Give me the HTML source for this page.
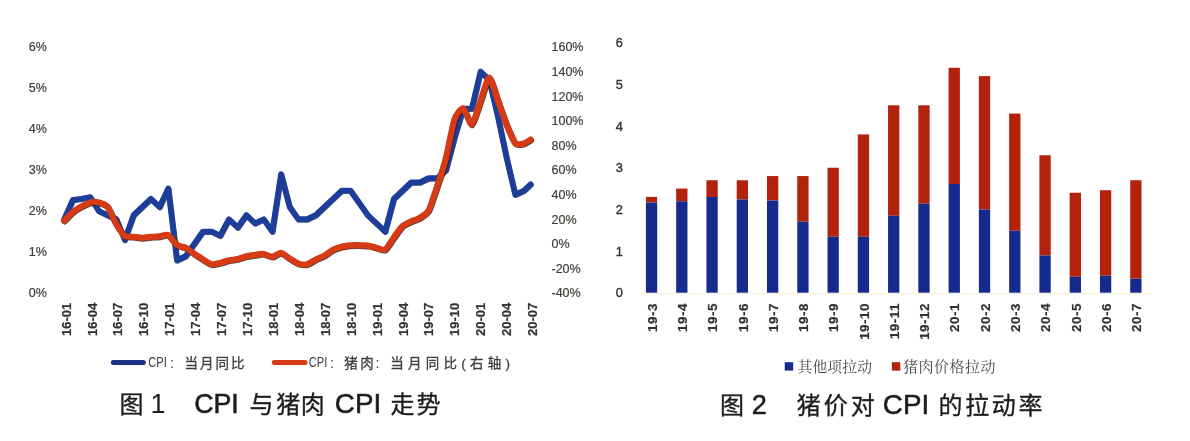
<!DOCTYPE html>
<html><head><meta charset="utf-8"><title>chart</title>
<style>html,body{margin:0;padding:0;background:#fff;}body{width:1190px;height:441px;overflow:hidden;font-family:"Liberation Sans",sans-serif;}svg{display:block;}</style>
</head><body>
<svg width="1190" height="441" viewBox="0 0 1190 441" font-family='"Liberation Sans", sans-serif'>
<defs><filter id="b" x="-5%" y="-5%" width="110%" height="110%"><feGaussianBlur stdDeviation="0.6"/></filter><filter id="b2" x="-5%" y="-5%" width="110%" height="110%"><feGaussianBlur stdDeviation="0.4"/></filter></defs>
<rect width="1190" height="441" fill="#ffffff"/>
<g filter="url(#b2)">
<text x="28.8" y="296.9" font-size="12.5" text-anchor="start" font-weight="normal" fill="#3e3e38" stroke="#3e3e38" stroke-width="0.2">0%</text>
<text x="28.8" y="255.9" font-size="12.5" text-anchor="start" font-weight="normal" fill="#3e3e38" stroke="#3e3e38" stroke-width="0.2">1%</text>
<text x="28.8" y="214.9" font-size="12.5" text-anchor="start" font-weight="normal" fill="#3e3e38" stroke="#3e3e38" stroke-width="0.2">2%</text>
<text x="28.8" y="173.9" font-size="12.5" text-anchor="start" font-weight="normal" fill="#3e3e38" stroke="#3e3e38" stroke-width="0.2">3%</text>
<text x="28.8" y="132.9" font-size="12.5" text-anchor="start" font-weight="normal" fill="#3e3e38" stroke="#3e3e38" stroke-width="0.2">4%</text>
<text x="28.8" y="91.9" font-size="12.5" text-anchor="start" font-weight="normal" fill="#3e3e38" stroke="#3e3e38" stroke-width="0.2">5%</text>
<text x="28.8" y="50.9" font-size="12.5" text-anchor="start" font-weight="normal" fill="#3e3e38" stroke="#3e3e38" stroke-width="0.2">6%</text>
<text x="551.5" y="297.3" font-size="12.5" text-anchor="start" font-weight="normal" fill="#3e3e38" stroke="#3e3e38" stroke-width="0.2">-40%</text>
<text x="551.5" y="272.7" font-size="12.5" text-anchor="start" font-weight="normal" fill="#3e3e38" stroke="#3e3e38" stroke-width="0.2">-20%</text>
<text x="551.5" y="248.10000000000002" font-size="12.5" text-anchor="start" font-weight="normal" fill="#3e3e38" stroke="#3e3e38" stroke-width="0.2">0%</text>
<text x="551.5" y="223.5" font-size="12.5" text-anchor="start" font-weight="normal" fill="#3e3e38" stroke="#3e3e38" stroke-width="0.2">20%</text>
<text x="551.5" y="198.9" font-size="12.5" text-anchor="start" font-weight="normal" fill="#3e3e38" stroke="#3e3e38" stroke-width="0.2">40%</text>
<text x="551.5" y="174.3" font-size="12.5" text-anchor="start" font-weight="normal" fill="#3e3e38" stroke="#3e3e38" stroke-width="0.2">60%</text>
<text x="551.5" y="149.70000000000002" font-size="12.5" text-anchor="start" font-weight="normal" fill="#3e3e38" stroke="#3e3e38" stroke-width="0.2">80%</text>
<text x="551.5" y="125.10000000000001" font-size="12.5" text-anchor="start" font-weight="normal" fill="#3e3e38" stroke="#3e3e38" stroke-width="0.2">100%</text>
<text x="551.5" y="100.49999999999999" font-size="12.5" text-anchor="start" font-weight="normal" fill="#3e3e38" stroke="#3e3e38" stroke-width="0.2">120%</text>
<text x="551.5" y="75.89999999999999" font-size="12.5" text-anchor="start" font-weight="normal" fill="#3e3e38" stroke="#3e3e38" stroke-width="0.2">140%</text>
<text x="551.5" y="51.3" font-size="12.5" text-anchor="start" font-weight="normal" fill="#3e3e38" stroke="#3e3e38" stroke-width="0.2">160%</text>
</g>
<g filter="url(#b)" fill="none" stroke-linejoin="round" stroke-linecap="round">
<path d="M64.1 219.2 L72.8 199.9 L81.4 198.7 L90.1 197.1 L98.8 211.0 L107.5 215.1 L116.2 219.2 L124.8 239.7 L133.5 215.1 L142.2 206.9 L150.8 198.7 L159.5 206.9 L168.2 188.4 L176.9 260.2 L185.6 256.1 L194.2 243.8 L202.9 231.5 L211.6 231.5 L220.2 235.6 L228.9 219.2 L237.6 227.4 L246.3 215.1 L255.0 223.3 L263.6 219.2 L272.3 231.5 L281.0 174.1 L289.6 206.9 L298.3 219.2 L307.0 219.2 L315.7 215.1 L324.4 206.9 L333.0 198.7 L341.7 190.5 L350.4 190.5 L359.1 202.8 L367.7 215.1 L376.4 223.3 L385.1 231.5 L393.8 198.7 L402.4 190.5 L411.1 182.3 L419.8 182.3 L428.5 178.2 L437.1 178.2 L445.8 170.0 L454.5 137.2 L463.1 108.5 L471.8 108.5 L480.5 71.6 L489.2 79.8 L497.9 116.7 L506.5 157.7 L515.2 194.6 L523.9 190.5 L530.5 184.3" stroke="#0e1a4a" transform="translate(0.5,0.6)" opacity="0.75" stroke-width="5.7"/>
<path d="M64.1 219.2 L72.8 199.9 L81.4 198.7 L90.1 197.1 L98.8 211.0 L107.5 215.1 L116.2 219.2 L124.8 239.7 L133.5 215.1 L142.2 206.9 L150.8 198.7 L159.5 206.9 L168.2 188.4 L176.9 260.2 L185.6 256.1 L194.2 243.8 L202.9 231.5 L211.6 231.5 L220.2 235.6 L228.9 219.2 L237.6 227.4 L246.3 215.1 L255.0 223.3 L263.6 219.2 L272.3 231.5 L281.0 174.1 L289.6 206.9 L298.3 219.2 L307.0 219.2 L315.7 215.1 L324.4 206.9 L333.0 198.7 L341.7 190.5 L350.4 190.5 L359.1 202.8 L367.7 215.1 L376.4 223.3 L385.1 231.5 L393.8 198.7 L402.4 190.5 L411.1 182.3 L419.8 182.3 L428.5 178.2 L437.1 178.2 L445.8 170.0 L454.5 137.2 L463.1 108.5 L471.8 108.5 L480.5 71.6 L489.2 79.8 L497.9 116.7 L506.5 157.7 L515.2 194.6 L523.9 190.5 L530.5 184.3" stroke="#1d3d9a" stroke-width="5.7"/>
<path d="M64.1 220.7 C65.0 219.8 71.0 213.5 72.8 212.1 C74.5 210.7 79.7 207.5 81.4 206.5 C83.2 205.6 88.4 202.9 90.1 202.5 C91.9 202.1 97.1 202.0 98.8 202.5 C100.5 202.9 105.7 204.6 107.5 206.8 C109.2 208.9 114.4 221.1 116.2 224.0 C117.9 226.9 123.1 234.6 124.8 235.9 C126.6 237.2 131.8 236.6 133.5 236.8 C135.2 237.0 140.4 237.9 142.2 237.9 C143.9 237.9 149.1 237.1 150.8 236.9 C152.6 236.8 157.8 236.6 159.5 236.4 C161.3 236.2 166.5 234.2 168.2 235.1 C169.9 235.9 175.1 243.6 176.9 244.9 C178.6 246.2 183.8 246.9 185.6 247.7 C187.3 248.6 192.5 252.6 194.2 253.8 C196.0 254.9 201.2 258.5 202.9 259.5 C204.6 260.6 209.8 264.0 211.6 264.3 C213.3 264.7 218.5 263.3 220.2 262.9 C222.0 262.5 227.2 260.7 228.9 260.3 C230.7 259.9 235.9 259.5 237.6 259.1 C239.3 258.6 244.5 256.6 246.3 256.2 C248.0 255.8 253.2 255.1 255.0 254.9 C256.7 254.6 261.9 253.8 263.6 254.0 C265.4 254.2 270.6 257.0 272.3 256.8 C274.0 256.7 279.2 252.6 281.0 252.8 C282.7 253.0 287.9 257.5 289.6 258.6 C291.4 259.6 296.6 263.0 298.3 263.6 C300.1 264.2 305.3 264.7 307.0 264.3 C308.7 263.9 313.9 260.4 315.7 259.5 C317.4 258.7 322.6 256.6 324.4 255.6 C326.1 254.6 331.3 250.7 333.0 249.8 C334.8 248.9 340.0 247.2 341.7 246.8 C343.4 246.3 348.6 245.6 350.4 245.4 C352.1 245.2 357.3 245.1 359.1 245.2 C360.8 245.2 366.0 245.4 367.7 245.6 C369.5 245.9 374.7 247.3 376.4 247.7 C378.1 248.1 383.3 250.7 385.1 249.7 C386.8 248.7 392.0 239.9 393.8 237.5 C395.5 235.2 400.7 227.7 402.4 226.1 C404.2 224.5 409.4 222.2 411.1 221.4 C412.8 220.6 418.0 218.9 419.8 217.8 C421.5 216.8 426.7 213.7 428.5 210.6 C430.2 207.4 435.4 191.6 437.1 186.4 C438.9 181.2 444.1 165.3 445.8 158.6 C447.5 151.8 452.7 124.2 454.5 119.2 C456.2 114.2 461.4 107.7 463.1 108.3 C464.9 108.8 470.1 125.2 471.8 124.5 C473.6 123.8 478.8 105.8 480.5 101.1 C482.2 96.4 487.4 77.6 489.2 77.5 C490.9 77.5 496.1 95.9 497.9 100.6 C499.6 105.3 504.8 120.3 506.5 124.6 C508.3 128.9 513.5 141.4 515.2 143.3 C516.9 145.2 522.3 143.8 523.9 143.4 C525.4 143.1 529.8 140.0 530.5 139.6" stroke="#2a1208" transform="translate(0.6,0.7)" opacity="0.8" stroke-width="6.2"/>
<path d="M64.1 220.7 C65.0 219.8 71.0 213.5 72.8 212.1 C74.5 210.7 79.7 207.5 81.4 206.5 C83.2 205.6 88.4 202.9 90.1 202.5 C91.9 202.1 97.1 202.0 98.8 202.5 C100.5 202.9 105.7 204.6 107.5 206.8 C109.2 208.9 114.4 221.1 116.2 224.0 C117.9 226.9 123.1 234.6 124.8 235.9 C126.6 237.2 131.8 236.6 133.5 236.8 C135.2 237.0 140.4 237.9 142.2 237.9 C143.9 237.9 149.1 237.1 150.8 236.9 C152.6 236.8 157.8 236.6 159.5 236.4 C161.3 236.2 166.5 234.2 168.2 235.1 C169.9 235.9 175.1 243.6 176.9 244.9 C178.6 246.2 183.8 246.9 185.6 247.7 C187.3 248.6 192.5 252.6 194.2 253.8 C196.0 254.9 201.2 258.5 202.9 259.5 C204.6 260.6 209.8 264.0 211.6 264.3 C213.3 264.7 218.5 263.3 220.2 262.9 C222.0 262.5 227.2 260.7 228.9 260.3 C230.7 259.9 235.9 259.5 237.6 259.1 C239.3 258.6 244.5 256.6 246.3 256.2 C248.0 255.8 253.2 255.1 255.0 254.9 C256.7 254.6 261.9 253.8 263.6 254.0 C265.4 254.2 270.6 257.0 272.3 256.8 C274.0 256.7 279.2 252.6 281.0 252.8 C282.7 253.0 287.9 257.5 289.6 258.6 C291.4 259.6 296.6 263.0 298.3 263.6 C300.1 264.2 305.3 264.7 307.0 264.3 C308.7 263.9 313.9 260.4 315.7 259.5 C317.4 258.7 322.6 256.6 324.4 255.6 C326.1 254.6 331.3 250.7 333.0 249.8 C334.8 248.9 340.0 247.2 341.7 246.8 C343.4 246.3 348.6 245.6 350.4 245.4 C352.1 245.2 357.3 245.1 359.1 245.2 C360.8 245.2 366.0 245.4 367.7 245.6 C369.5 245.9 374.7 247.3 376.4 247.7 C378.1 248.1 383.3 250.7 385.1 249.7 C386.8 248.7 392.0 239.9 393.8 237.5 C395.5 235.2 400.7 227.7 402.4 226.1 C404.2 224.5 409.4 222.2 411.1 221.4 C412.8 220.6 418.0 218.9 419.8 217.8 C421.5 216.8 426.7 213.7 428.5 210.6 C430.2 207.4 435.4 191.6 437.1 186.4 C438.9 181.2 444.1 165.3 445.8 158.6 C447.5 151.8 452.7 124.2 454.5 119.2 C456.2 114.2 461.4 107.7 463.1 108.3 C464.9 108.8 470.1 125.2 471.8 124.5 C473.6 123.8 478.8 105.8 480.5 101.1 C482.2 96.4 487.4 77.6 489.2 77.5 C490.9 77.5 496.1 95.9 497.9 100.6 C499.6 105.3 504.8 120.3 506.5 124.6 C508.3 128.9 513.5 141.4 515.2 143.3 C516.9 145.2 522.3 143.8 523.9 143.4 C525.4 143.1 529.8 140.0 530.5 139.6" stroke="#d63a14" stroke-width="6.2"/>
</g>
<g filter="url(#b2)">
<text transform="translate(70.58,302.60) rotate(-90)" font-size="13" text-anchor="end" font-weight="bold" fill="#333333" stroke="#333333" stroke-width="0.2" letter-spacing="0.05">16-01</text>
<text transform="translate(96.50,302.60) rotate(-90)" font-size="13" text-anchor="end" font-weight="bold" fill="#333333" stroke="#333333" stroke-width="0.2" letter-spacing="0.05">16-04</text>
<text transform="translate(122.41,302.60) rotate(-90)" font-size="13" text-anchor="end" font-weight="bold" fill="#333333" stroke="#333333" stroke-width="0.2" letter-spacing="0.05">16-07</text>
<text transform="translate(148.33,302.60) rotate(-90)" font-size="13" text-anchor="end" font-weight="bold" fill="#333333" stroke="#333333" stroke-width="0.2" letter-spacing="0.05">16-10</text>
<text transform="translate(174.25,302.60) rotate(-90)" font-size="13" text-anchor="end" font-weight="bold" fill="#333333" stroke="#333333" stroke-width="0.2" letter-spacing="0.05">17-01</text>
<text transform="translate(200.16,302.60) rotate(-90)" font-size="13" text-anchor="end" font-weight="bold" fill="#333333" stroke="#333333" stroke-width="0.2" letter-spacing="0.05">17-04</text>
<text transform="translate(226.08,302.60) rotate(-90)" font-size="13" text-anchor="end" font-weight="bold" fill="#333333" stroke="#333333" stroke-width="0.2" letter-spacing="0.05">17-07</text>
<text transform="translate(252.00,302.60) rotate(-90)" font-size="13" text-anchor="end" font-weight="bold" fill="#333333" stroke="#333333" stroke-width="0.2" letter-spacing="0.05">17-10</text>
<text transform="translate(277.92,302.60) rotate(-90)" font-size="13" text-anchor="end" font-weight="bold" fill="#333333" stroke="#333333" stroke-width="0.2" letter-spacing="0.05">18-01</text>
<text transform="translate(303.83,302.60) rotate(-90)" font-size="13" text-anchor="end" font-weight="bold" fill="#333333" stroke="#333333" stroke-width="0.2" letter-spacing="0.05">18-04</text>
<text transform="translate(329.75,302.60) rotate(-90)" font-size="13" text-anchor="end" font-weight="bold" fill="#333333" stroke="#333333" stroke-width="0.2" letter-spacing="0.05">18-07</text>
<text transform="translate(355.67,302.60) rotate(-90)" font-size="13" text-anchor="end" font-weight="bold" fill="#333333" stroke="#333333" stroke-width="0.2" letter-spacing="0.05">18-10</text>
<text transform="translate(381.58,302.60) rotate(-90)" font-size="13" text-anchor="end" font-weight="bold" fill="#333333" stroke="#333333" stroke-width="0.2" letter-spacing="0.05">19-01</text>
<text transform="translate(407.50,302.60) rotate(-90)" font-size="13" text-anchor="end" font-weight="bold" fill="#333333" stroke="#333333" stroke-width="0.2" letter-spacing="0.05">19-04</text>
<text transform="translate(433.42,302.60) rotate(-90)" font-size="13" text-anchor="end" font-weight="bold" fill="#333333" stroke="#333333" stroke-width="0.2" letter-spacing="0.05">19-07</text>
<text transform="translate(459.33,302.60) rotate(-90)" font-size="13" text-anchor="end" font-weight="bold" fill="#333333" stroke="#333333" stroke-width="0.2" letter-spacing="0.05">19-10</text>
<text transform="translate(485.25,302.60) rotate(-90)" font-size="13" text-anchor="end" font-weight="bold" fill="#333333" stroke="#333333" stroke-width="0.2" letter-spacing="0.05">20-01</text>
<text transform="translate(511.17,302.60) rotate(-90)" font-size="13" text-anchor="end" font-weight="bold" fill="#333333" stroke="#333333" stroke-width="0.2" letter-spacing="0.05">20-04</text>
<text transform="translate(537.09,302.60) rotate(-90)" font-size="13" text-anchor="end" font-weight="bold" fill="#333333" stroke="#333333" stroke-width="0.2" letter-spacing="0.05">20-07</text>
</g>
<g filter="url(#b2)">
<line x1="113.3" y1="362.6" x2="143.3" y2="362.6" stroke="#1b3388" stroke-width="5" stroke-linecap="round"/>
<text x="148.3" y="367.0" font-size="14.2" text-anchor="start" font-weight="normal" fill="#3e3e3e" textLength="18.6" lengthAdjust="spacingAndGlyphs">CPI</text>
<text x="172.1" y="368.3" font-size="14.2" text-anchor="middle" fill="#3e3e3e">:</text>
<text x="184.6" y="367.6" font-size="13.5" text-anchor="start" fill="#3e3e3e" stroke="#3e3e3e" stroke-width="0.3" textLength="59.8" lengthAdjust="spacing" font-family='"Liberation Sans", "Noto Sans CJK SC", sans-serif'>当月同比</text>
<line x1="274.3" y1="362.6" x2="305" y2="362.6" stroke="#d63a14" stroke-width="5" stroke-linecap="round"/>
<text x="308.8" y="367.0" font-size="14.2" text-anchor="start" font-weight="normal" fill="#3e3e3e" textLength="18.6" lengthAdjust="spacingAndGlyphs">CPI</text>
<text x="332.1" y="368.3" font-size="14.2" text-anchor="middle" fill="#3e3e3e">:</text>
<text x="344.2" y="367.6" font-size="13.5" text-anchor="start" fill="#3e3e3e" stroke="#3e3e3e" stroke-width="0.3" textLength="29.6" lengthAdjust="spacing" font-family='"Liberation Sans", "Noto Sans CJK SC", sans-serif'>猪肉</text>
<text x="377.5" y="368.3" font-size="14.2" text-anchor="middle" fill="#3e3e3e">:</text>
<text x="390.2" y="367.6" font-size="13.5" text-anchor="start" fill="#3e3e3e" stroke="#3e3e3e" stroke-width="0.3" textLength="119.8" lengthAdjust="spacing" font-family='"Liberation Sans", "Noto Sans CJK SC", sans-serif'>当月同比(右轴)</text>
</g>
<g filter="url(#b2)">
<text x="119.5" y="413.0" font-size="24" text-anchor="start" fill="#1c1c1c" stroke="#1c1c1c" stroke-width="0.35" font-family='"Liberation Sans", "Noto Sans CJK SC", sans-serif'>图</text>
<text x="158" y="413.2" font-size="27" text-anchor="middle" fill="#1c1c1c">1</text>
<text x="249.5" y="413.0" font-size="24" text-anchor="start" fill="#1c1c1c" stroke="#1c1c1c" stroke-width="0.35" font-family='"Liberation Sans", "Noto Sans CJK SC", sans-serif'>与</text>
<text x="276.3" y="413.0" font-size="24" text-anchor="start" fill="#1c1c1c" stroke="#1c1c1c" stroke-width="0.35" textLength="48.5" lengthAdjust="spacing" font-family='"Liberation Sans", "Noto Sans CJK SC", sans-serif'>猪肉</text>
<text x="390.5" y="413.0" font-size="24" text-anchor="start" fill="#1c1c1c" stroke="#1c1c1c" stroke-width="0.35" textLength="50" lengthAdjust="spacing" font-family='"Liberation Sans", "Noto Sans CJK SC", sans-serif'>走势</text>
<text x="216.5" y="413.0" font-size="27" text-anchor="middle" font-weight="normal" fill="#1c1c1c" stroke="#1c1c1c" stroke-width="0.55" textLength="44.6" lengthAdjust="spacingAndGlyphs">CPI</text>
<text x="358" y="413.0" font-size="27" text-anchor="middle" font-weight="normal" fill="#1c1c1c" stroke="#1c1c1c" stroke-width="0.55" textLength="46.3" lengthAdjust="spacingAndGlyphs">CPI</text>
</g>
<g filter="url(#b2)">
<text x="615.8" y="297.3" font-size="12.8" text-anchor="start" font-weight="normal" fill="#363636" stroke="#363636" stroke-width="0.4">0</text>
<text x="615.8" y="255.64999999999998" font-size="12.8" text-anchor="start" font-weight="normal" fill="#363636" stroke="#363636" stroke-width="0.4">1</text>
<text x="615.8" y="213.99999999999997" font-size="12.8" text-anchor="start" font-weight="normal" fill="#363636" stroke="#363636" stroke-width="0.4">2</text>
<text x="615.8" y="172.35" font-size="12.8" text-anchor="start" font-weight="normal" fill="#363636" stroke="#363636" stroke-width="0.4">3</text>
<text x="615.8" y="130.7" font-size="12.8" text-anchor="start" font-weight="normal" fill="#363636" stroke="#363636" stroke-width="0.4">4</text>
<text x="615.8" y="89.04999999999998" font-size="12.8" text-anchor="start" font-weight="normal" fill="#363636" stroke="#363636" stroke-width="0.4">5</text>
<text x="615.8" y="47.40000000000001" font-size="12.8" text-anchor="start" font-weight="normal" fill="#363636" stroke="#363636" stroke-width="0.4">6</text>
</g>
<line x1="640" y1="293.6" x2="1151" y2="293.6" stroke="#f7f2dc" stroke-width="1.3"/>
<g filter="url(#b2)">
<rect x="645.90" y="196.91" width="11.3" height="5.59" fill="#b2200f"/>
<rect x="645.90" y="202.50" width="11.3" height="90.20" fill="#182c8e"/>
<rect x="676.17" y="188.57" width="11.3" height="12.68" fill="#b2200f"/>
<rect x="676.17" y="201.25" width="11.3" height="91.45" fill="#182c8e"/>
<rect x="706.44" y="180.25" width="11.3" height="16.75" fill="#b2200f"/>
<rect x="706.44" y="197.00" width="11.3" height="95.70" fill="#182c8e"/>
<rect x="736.71" y="180.25" width="11.3" height="19.25" fill="#b2200f"/>
<rect x="736.71" y="199.50" width="11.3" height="93.20" fill="#182c8e"/>
<rect x="766.98" y="176.08" width="11.3" height="24.42" fill="#b2200f"/>
<rect x="766.98" y="200.50" width="11.3" height="92.20" fill="#182c8e"/>
<rect x="797.25" y="176.08" width="11.3" height="45.67" fill="#b2200f"/>
<rect x="797.25" y="221.75" width="11.3" height="70.95" fill="#182c8e"/>
<rect x="827.52" y="167.75" width="11.3" height="69.00" fill="#b2200f"/>
<rect x="827.52" y="236.75" width="11.3" height="55.95" fill="#182c8e"/>
<rect x="857.79" y="134.43" width="11.3" height="102.32" fill="#b2200f"/>
<rect x="857.79" y="236.75" width="11.3" height="55.95" fill="#182c8e"/>
<rect x="888.06" y="105.28" width="11.3" height="110.47" fill="#b2200f"/>
<rect x="888.06" y="215.75" width="11.3" height="76.95" fill="#182c8e"/>
<rect x="918.33" y="105.28" width="11.3" height="98.47" fill="#b2200f"/>
<rect x="918.33" y="203.75" width="11.3" height="88.95" fill="#182c8e"/>
<rect x="948.60" y="67.79" width="11.3" height="116.21" fill="#b2200f"/>
<rect x="948.60" y="184.00" width="11.3" height="108.70" fill="#182c8e"/>
<rect x="978.87" y="76.12" width="11.3" height="133.38" fill="#b2200f"/>
<rect x="978.87" y="209.50" width="11.3" height="83.20" fill="#182c8e"/>
<rect x="1009.14" y="113.60" width="11.3" height="117.15" fill="#b2200f"/>
<rect x="1009.14" y="230.75" width="11.3" height="61.95" fill="#182c8e"/>
<rect x="1039.41" y="155.25" width="11.3" height="100.25" fill="#b2200f"/>
<rect x="1039.41" y="255.50" width="11.3" height="37.20" fill="#182c8e"/>
<rect x="1069.68" y="192.74" width="11.3" height="84.01" fill="#b2200f"/>
<rect x="1069.68" y="276.75" width="11.3" height="15.95" fill="#182c8e"/>
<rect x="1099.95" y="190.24" width="11.3" height="85.51" fill="#b2200f"/>
<rect x="1099.95" y="275.75" width="11.3" height="16.95" fill="#182c8e"/>
<rect x="1130.22" y="180.25" width="11.3" height="98.50" fill="#b2200f"/>
<rect x="1130.22" y="278.75" width="11.3" height="13.95" fill="#182c8e"/>
</g>
<g filter="url(#b2)">
<text transform="translate(656.77,303.10) rotate(-90)" font-size="13.4" text-anchor="end" font-weight="bold" fill="#333333" stroke="#333333" stroke-width="0.2" letter-spacing="0.5">19-3</text>
<text transform="translate(687.04,303.10) rotate(-90)" font-size="13.4" text-anchor="end" font-weight="bold" fill="#333333" stroke="#333333" stroke-width="0.2" letter-spacing="0.5">19-4</text>
<text transform="translate(717.31,303.10) rotate(-90)" font-size="13.4" text-anchor="end" font-weight="bold" fill="#333333" stroke="#333333" stroke-width="0.2" letter-spacing="0.5">19-5</text>
<text transform="translate(747.58,303.10) rotate(-90)" font-size="13.4" text-anchor="end" font-weight="bold" fill="#333333" stroke="#333333" stroke-width="0.2" letter-spacing="0.5">19-6</text>
<text transform="translate(777.85,303.10) rotate(-90)" font-size="13.4" text-anchor="end" font-weight="bold" fill="#333333" stroke="#333333" stroke-width="0.2" letter-spacing="0.5">19-7</text>
<text transform="translate(808.12,303.10) rotate(-90)" font-size="13.4" text-anchor="end" font-weight="bold" fill="#333333" stroke="#333333" stroke-width="0.2" letter-spacing="0.5">19-8</text>
<text transform="translate(838.39,303.10) rotate(-90)" font-size="13.4" text-anchor="end" font-weight="bold" fill="#333333" stroke="#333333" stroke-width="0.2" letter-spacing="0.5">19-9</text>
<text transform="translate(868.66,303.10) rotate(-90)" font-size="13.4" text-anchor="end" font-weight="bold" fill="#333333" stroke="#333333" stroke-width="0.2" letter-spacing="0.5">19-10</text>
<text transform="translate(898.93,303.10) rotate(-90)" font-size="13.4" text-anchor="end" font-weight="bold" fill="#333333" stroke="#333333" stroke-width="0.2" letter-spacing="0.5">19-11</text>
<text transform="translate(929.20,303.10) rotate(-90)" font-size="13.4" text-anchor="end" font-weight="bold" fill="#333333" stroke="#333333" stroke-width="0.2" letter-spacing="0.5">19-12</text>
<text transform="translate(959.47,303.10) rotate(-90)" font-size="13.4" text-anchor="end" font-weight="bold" fill="#333333" stroke="#333333" stroke-width="0.2" letter-spacing="0.5">20-1</text>
<text transform="translate(989.74,303.10) rotate(-90)" font-size="13.4" text-anchor="end" font-weight="bold" fill="#333333" stroke="#333333" stroke-width="0.2" letter-spacing="0.5">20-2</text>
<text transform="translate(1020.01,303.10) rotate(-90)" font-size="13.4" text-anchor="end" font-weight="bold" fill="#333333" stroke="#333333" stroke-width="0.2" letter-spacing="0.5">20-3</text>
<text transform="translate(1050.28,303.10) rotate(-90)" font-size="13.4" text-anchor="end" font-weight="bold" fill="#333333" stroke="#333333" stroke-width="0.2" letter-spacing="0.5">20-4</text>
<text transform="translate(1080.55,303.10) rotate(-90)" font-size="13.4" text-anchor="end" font-weight="bold" fill="#333333" stroke="#333333" stroke-width="0.2" letter-spacing="0.5">20-5</text>
<text transform="translate(1110.82,303.10) rotate(-90)" font-size="13.4" text-anchor="end" font-weight="bold" fill="#333333" stroke="#333333" stroke-width="0.2" letter-spacing="0.5">20-6</text>
<text transform="translate(1141.09,303.10) rotate(-90)" font-size="13.4" text-anchor="end" font-weight="bold" fill="#333333" stroke="#333333" stroke-width="0.2" letter-spacing="0.5">20-7</text>
</g>
<g filter="url(#b2)">
<rect x="784.7" y="362.2" width="8.5" height="8.4" fill="#182c8e"/>
<text x="797.5" y="372.0" font-size="14.8" text-anchor="start" fill="#4a4a4a" textLength="74.5" lengthAdjust="spacing" font-family='"Liberation Serif", "Noto Serif CJK SC", serif'>其他项拉动</text>
<rect x="891.8" y="362.2" width="8.5" height="8.4" fill="#b2200f"/>
<text x="903" y="372.0" font-size="15" text-anchor="start" fill="#4a4a4a" textLength="92.6" lengthAdjust="spacing" font-family='"Liberation Serif", "Noto Serif CJK SC", serif'>猪肉价格拉动</text>
</g>
<g filter="url(#b2)">
<text x="720.1" y="413.5" font-size="24" text-anchor="start" fill="#1c1c1c" stroke="#1c1c1c" stroke-width="0.35" font-family='"Liberation Sans", "Noto Sans CJK SC", sans-serif'>图</text>
<text x="796.8" y="413.5" font-size="24" text-anchor="start" fill="#1c1c1c" stroke="#1c1c1c" stroke-width="0.35" textLength="78" lengthAdjust="spacing" font-family='"Liberation Sans", "Noto Sans CJK SC", sans-serif'>猪价对</text>
<text x="938.5" y="413.5" font-size="24" text-anchor="start" fill="#1c1c1c" stroke="#1c1c1c" stroke-width="0.35" textLength="104" lengthAdjust="spacing" font-family='"Liberation Sans", "Noto Sans CJK SC", sans-serif'>的拉动率</text>
<text x="759.3" y="413.5" font-size="27" text-anchor="middle" font-weight="normal" fill="#1c1c1c" stroke="#1c1c1c" stroke-width="0.55">2</text>
<text x="906" y="413.5" font-size="27" text-anchor="middle" font-weight="normal" fill="#1c1c1c" stroke="#1c1c1c" stroke-width="0.55" textLength="46.3" lengthAdjust="spacingAndGlyphs">CPI</text>
</g>
</svg>
</body></html>
